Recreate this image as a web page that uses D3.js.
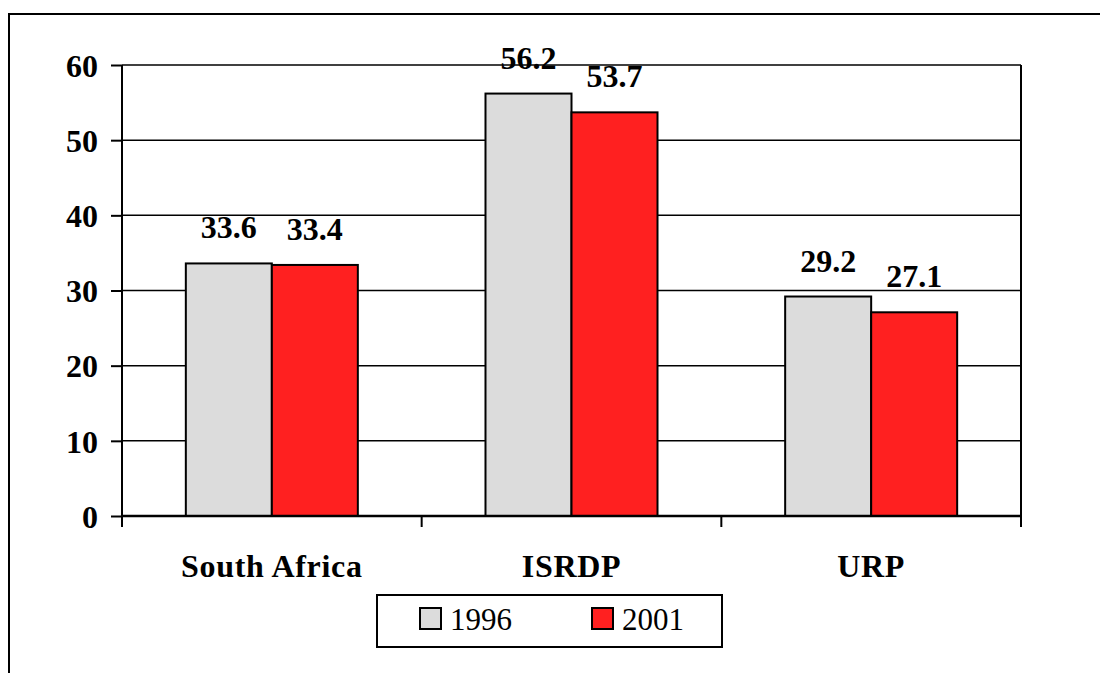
<!DOCTYPE html>
<html>
<head>
<meta charset="utf-8">
<script src="https://cdn.jsdelivr.net/npm/d3@7"></script>
<style>
  html, body { margin: 0; padding: 0; background: #fff; }
  svg { display: block; }
  svg text { font-family: "Times New Roman", "Liberation Serif", "DejaVu Serif", serif !important; fill: #000; }
</style>
</head>
<body>
<script>
const categories = ["South Africa", "ISRDP", "URP"];
const seriesNames = ["1996", "2001"];
const values1996 = [33.6, 56.2, 29.2];
const values2001 = [33.4, 53.7, 27.1];
const yTicks = [0, 10, 20, 30, 40, 50, 60];
const colors = ["#dcdcdc", "#ff2020"];

(function () {
const W = 1100, H = 673;
const FONT = "'Times New Roman', 'Liberation Serif', 'DejaVu Serif', serif";
const svg = d3.select("body").append("svg").attr("width", W).attr("height", H)
  .attr("font-family", FONT);

// outer frame (clipped at right/bottom)
svg.append("path").attr("d", `M9,${H + 5} L9,14 L${W + 5},14`)
  .attr("fill", "none").attr("stroke", "#000").attr("stroke-width", 2);

const pL = 122, pR = 1021, pT = 65, pB = 516;
const y = d3.scaleLinear().domain([0, 60]).range([pB, pT]);
const x0 = d3.scaleBand().domain(categories).range([pL, pR])
  .paddingInner(0.426).paddingOuter(0.213);
const x1 = d3.scaleBand().domain(seriesNames).range([0, x0.bandwidth()]).padding(0);
const xCat = d3.scaleBand().domain(categories).range([pL, pR]).padding(0);

// gridlines
svg.append("g").selectAll("line").data(yTicks.filter(d => d > 0)).join("line")
  .attr("x1", pL).attr("x2", pR)
  .attr("y1", d => y(d)).attr("y2", d => y(d))
  .attr("stroke", "#000").attr("stroke-width", 1.5);

// plot border right
svg.append("line").attr("x1", pR).attr("x2", pR).attr("y1", pT).attr("y2", pB)
  .attr("stroke", "#000").attr("stroke-width", 2);

// bars
const data = categories.map((c, i) => ({ cat: c, vals: [values1996[i], values2001[i]] }));
const groups = svg.append("g").selectAll("g").data(data).join("g")
  .attr("transform", d => `translate(${x0(d.cat)},0)`);
groups.selectAll("rect").data(d => d.vals.map((v, j) => ({ s: seriesNames[j], v, j }))).join("rect")
  .attr("x", d => x1(d.s)).attr("width", x1.bandwidth())
  .attr("y", d => y(d.v)).attr("height", d => y(0) - y(d.v))
  .attr("fill", d => colors[d.j]).attr("stroke", "#000").attr("stroke-width", 2);
groups.selectAll("text").data(d => d.vals.map((v, j) => ({ s: seriesNames[j], v, j }))).join("text")
  .attr("x", d => x1(d.s) + x1.bandwidth() / 2)
  .attr("y", d => y(d.v) - 25)
  .attr("text-anchor", "middle").attr("font-weight", "bold").attr("font-size", 32)
  .text(d => d.v.toFixed(1));

// y axis
const yAxis = svg.append("g").attr("transform", `translate(${pL},0)`)
  .call(d3.axisLeft(y).tickValues(yTicks).tickSize(11).tickPadding(13).tickFormat(d3.format("d")));
yAxis.attr("font-family", FONT);
yAxis.select(".domain").attr("stroke", "#000").attr("stroke-width", 2).attr("d", `M0,${pT}V${pB}`);
yAxis.selectAll(".tick line").attr("stroke", "#000").attr("stroke-width", 2);
yAxis.selectAll(".tick text")
  .attr("font-weight", "bold").attr("font-size", 32).attr("dy", "0.35em").attr("fill", "#000");

// x axis
const xAxis = svg.append("g").attr("transform", `translate(0,${pB})`);
xAxis.append("line").attr("x1", pL).attr("x2", pR).attr("y1", 0).attr("y2", 0)
  .attr("stroke", "#000").attr("stroke-width", 2.5);
const boundaries = categories.map(c => xCat(c)).concat([pR]);
xAxis.selectAll("line.tk").data(boundaries).join("line").attr("class", "tk")
  .attr("x1", d => d).attr("x2", d => d).attr("y1", 0).attr("y2", 11)
  .attr("stroke", "#000").attr("stroke-width", 2);
xAxis.selectAll("text").data(categories).join("text")
  .attr("x", d => xCat(d) + xCat.bandwidth() / 2).attr("y", 61)
  .attr("text-anchor", "middle").attr("font-weight", "bold").attr("font-size", 32)
  .attr("letter-spacing", 0.7)
  .text(d => d);

// legend
const lg = svg.append("g");
lg.append("rect").attr("x", 377).attr("y", 595).attr("width", 345).attr("height", 52)
  .attr("fill", "#fff").attr("stroke", "#000").attr("stroke-width", 2);
const legendX = [420, 592];
seriesNames.forEach((s, j) => {
  lg.append("rect").attr("x", legendX[j]).attr("y", 608).attr("width", 21).attr("height", 21)
    .attr("fill", colors[j]).attr("stroke", "#000").attr("stroke-width", 2);
  lg.append("text").attr("x", legendX[j] + 30).attr("y", 630)
    .attr("font-size", 31).text(s);
});
})();
</script>
</body>
</html>
